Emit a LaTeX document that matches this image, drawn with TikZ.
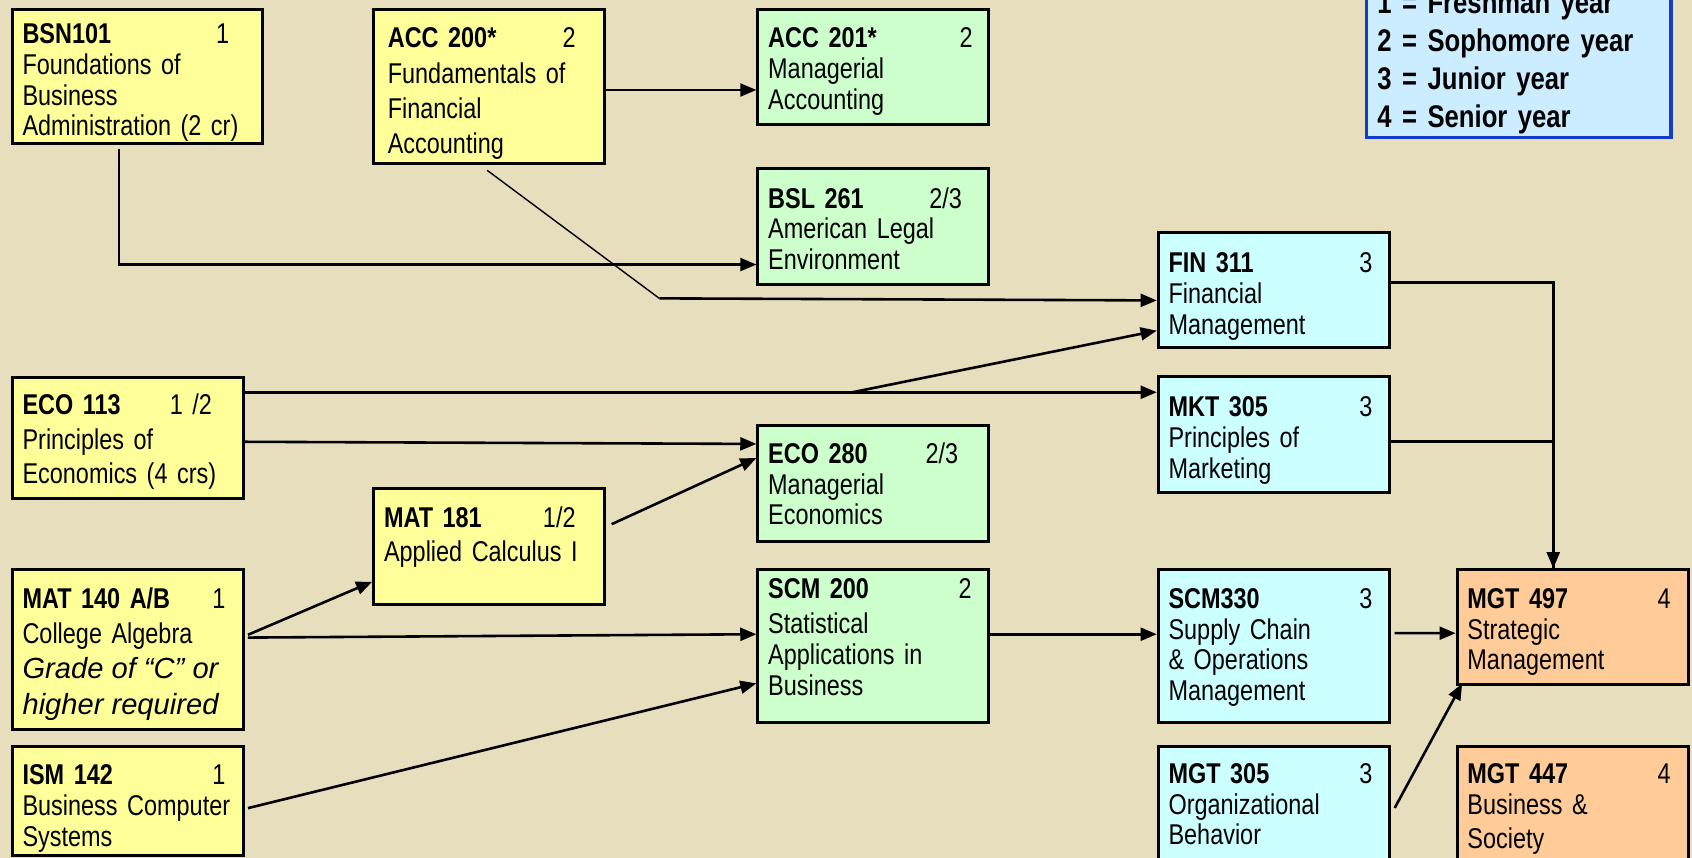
\documentclass[tikz,border=0pt]{standalone}
\usepackage{fontspec}
\setmainfont{Liberation Sans}[FakeStretch=0.82]
\newfontfamily\wideface{Liberation Sans}
\usetikzlibrary{arrows.meta}

\definecolor{paper}{RGB}{230,222,188}
\definecolor{yellowbox}{RGB}{255,255,153}
\definecolor{greenbox}{RGB}{204,255,204}
\definecolor{cyanbox}{RGB}{204,255,255}
\definecolor{orangebox}{RGB}{255,204,153}
\definecolor{keyfill}{RGB}{204,236,255}
\definecolor{keyblue}{RGB}{20,60,200}

\newcommand\wideit{\wideface\itshape\fontsize{27}{33}\selectfont\spaceskip=7.5pt plus 2pt minus 1pt\relax}
\newcommand\tightspace{\spaceskip=5.6pt plus 2pt minus 1pt\relax}
\newcommand\keyspace{\spaceskip=6.5pt plus 2pt minus 1pt\relax}

\tikzset{
  course/.style={draw=black, line width=2.8pt, anchor=north west, align=left,
    inner xsep=9.5pt, inner ysep=0pt, text width=195pt,
    font=\fontsize{26.5}{28.5}\selectfont\tightspace},
  link/.style={line width=2.4pt, -{Triangle[length=15pt,width=12pt]}},
  wire/.style={line width=2.4pt},
  thinwire/.style={line width=1.3pt}
}

\begin{document}
\begin{tikzpicture}[x=1pt, y=-1pt]
\useasboundingbox (0,0) rectangle (1568,795);
\clip (0,0) rectangle (1568,795);
\fill[paper] (0,0) rectangle (1568,795);

% year 1
\node [course, fill=yellowbox, text width=213pt, text height=32pt, text depth=93pt] (bsn) at (10,7)
  {\textbf{BSN101}\hfill 1\kern21.5pt\\Foundations of\\Business\\Administration (2 cr)};
\node [course, fill=yellowbox, text height=34.6pt, text depth=77.2pt,
  font=\fontsize{26.5}{32}\selectfont\tightspace] (eco113) at (10,348.5)
  {\textbf{ECO 113}\hfill 1 /2\kern19.5pt\\Principles of\\Economics (4 crs)};
\node [course, fill=yellowbox, text height=35.6pt, text depth=112.7pt,
  font=\fontsize{26.5}{32.5}\selectfont\tightspace] (mat140) at (10,526.7)
  {\textbf{MAT 140 A/B}\hfill 1\kern7pt\\College Algebra\\\wideit Grade of “C” or\\\wideit higher required};
\node [course, fill=yellowbox, text height=36pt, text depth=65pt] (ism) at (10,690)
  {\textbf{ISM 142}\hfill 1\kern7pt\\Business Computer\\Systems};
\node [course, fill=yellowbox, inner xsep=13pt, text width=188pt, text height=36pt, text depth=107pt,
  font=\fontsize{26.5}{32.7}\selectfont\tightspace] (acc200) at (345,7)
  {\textbf{ACC 200*}\hfill 2\kern14pt\\Fundamentals of\\Financial\\Accounting};
\node [course, fill=yellowbox, text height=36pt, text depth=71.3pt,
  font=\fontsize{26.5}{31.5}\selectfont\tightspace] (mat181) at (345,451.7)
  {\textbf{MAT 181}\hfill 1/2\kern17.5pt\\Applied Calculus I};

% year 2
\node [course, fill=greenbox, text height=36pt, text depth=71pt] (acc201) at (701,7)
  {\textbf{ACC 201*}\hfill 2\kern5.5pt\\Managerial\\Accounting};
\node [course, fill=greenbox, text height=36.5pt, text depth=71pt] (bsl) at (701,155)
  {\textbf{BSL 261}\hfill 2/3\kern15.5pt\\American Legal\\Environment};
\node [course, fill=greenbox, text height=35pt, text depth=72pt] (eco280) at (701,393)
  {\textbf{ECO 280}\hfill 2/3\kern19pt\\Managerial\\Economics};
\node [course, fill=greenbox, text height=26.3pt, text depth=115pt] (scm200) at (701,526.7)
  {\textbf{SCM 200}\hfill 2\kern6.5pt\\[4.4pt]Statistical\\Applications in\\Business};

% year 3
\node [course, fill=cyanbox, text height=37.5pt, text depth=69.5pt] (fin) at (1072,214)
  {\textbf{FIN 311}\hfill 3\kern6pt\\Financial\\Management};
\node [course, fill=cyanbox, text height=37pt, text depth=70.4pt] (mkt) at (1072,347.6)
  {\textbf{MKT 305}\hfill 3\kern6pt\\Principles of\\Marketing};
\node [course, fill=cyanbox, text height=35.6pt, text depth=105.7pt] (scm330) at (1072,526.7)
  {\textbf{SCM330}\hfill 3\kern6pt\\Supply Chain\\\& Operations\\Management};
\node [course, fill=cyanbox, text height=34.6pt, text depth=80pt] (mgt305) at (1072,690)
  {\textbf{MGT 305}\hfill 3\kern6pt\\Organizational\\Behavior};

% year 4
\node [course, fill=orangebox, text height=35.6pt, text depth=70.4pt] (mgt497) at (1349,526.7)
  {\textbf{MGT 497}\hfill 4\kern6.7pt\\Strategic\\Management};
\node [course, fill=orangebox, text height=34.6pt, text depth=80pt] (mgt447) at (1349,690)
  {\textbf{MGT 447}\hfill 4\kern6.7pt\\Business \&\\[3pt]Society};

% key
\node [draw=keyblue, fill=keyfill, line width=3pt, anchor=north west, align=left,
  inner xsep=10pt, inner ysep=0pt, text width=262pt, text height=35.8pt, text depth=115pt,
  font=\bfseries\fontsize{29}{35.3}\selectfont\keyspace] (key) at (1265,-25)
  {1 = Freshman year\\2 = Sophomore year\\3 = Junior year\\4 = Senior year};

% prerequisites
\coordinate (split) at (790,363.5);
\coordinate (kink) at (611,276.5);
\coordinate (drop) at ([xshift=-18pt]mgt497.north);
\draw [link] ([xshift=-17pt,yshift=-3pt]bsn.south) |- ([yshift=-35pt]bsl.west);
\draw [link] ([yshift=-3.5pt]acc200.east) -- ([yshift=-21.5pt]acc201.west);
\draw [thinwire] ([xshift=-2pt,yshift=-5pt]acc200.south) -- (kink);
\draw [link] (kink) -- ([yshift=-9.5pt]fin.west);
\draw [link] (split -| eco113.east) -- (split -| mkt.west);
\draw [link] (split) -- ([yshift=-37.5pt]fin.west);
\draw [link] ([yshift=-3.6pt]eco113.east) -- ([yshift=36.5pt]eco280.west);
\draw [link] ([xshift=5pt,yshift=21pt]mat181.east) -- ([yshift=23.5pt]eco280.west);
\draw [link] ([xshift=3pt,yshift=14pt]mat140.east) -- ([yshift=-32.3pt]mat181.west);
\draw [link] ([xshift=3pt,yshift=11.4pt]mat140.east) -- ([yshift=11pt]scm200.west);
\draw [link] ([xshift=3pt,yshift=-7pt]ism.east) -- ([yshift=-34.5pt]scm200.west);
\draw [link] ([xshift=-3pt,yshift=11pt]scm200.east) -- ([yshift=11pt]scm330.west);
\draw [link] ([yshift=7pt]fin.east) -| (drop);
\draw [wire] ([yshift=-6.5pt]mkt.east) -| (drop);
\draw [link] ([xshift=3.7pt,yshift=12pt]scm330.east) -- ([yshift=-5.7pt]mgt497.west);
\draw [link] ([xshift=3.7pt]mgt305.east) -- ([xshift=6pt,yshift=2pt]mgt497.south west);
\end{tikzpicture}
\end{document}
